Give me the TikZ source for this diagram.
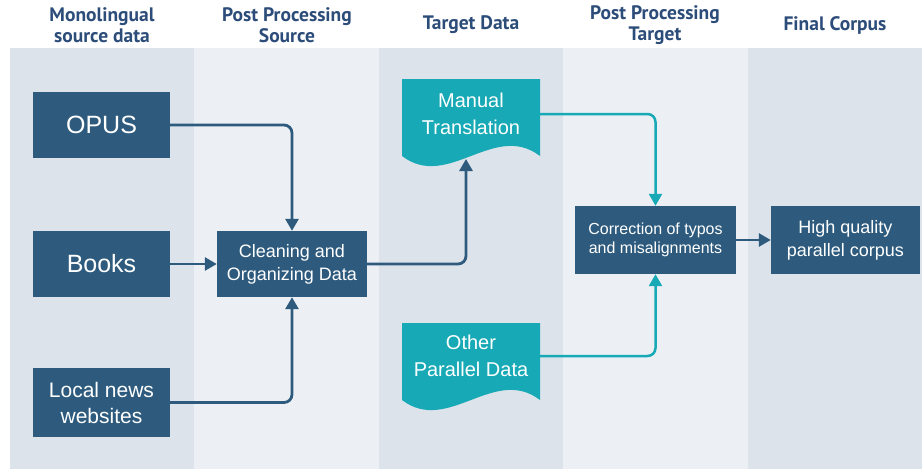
\documentclass[tikz,border=0pt]{standalone}
\usepackage{fontspec}
\setmainfont{Liberation Sans}
\newfontfamily\headfont{PT Sans}
\usetikzlibrary{positioning}
\usetikzlibrary{calc}
\usetikzlibrary{arrows.meta}
\usetikzlibrary{backgrounds}
\definecolor{laneDark}{HTML}{DCE3EA}
\definecolor{laneLight}{HTML}{ECF0F4}
\definecolor{boxBlue}{HTML}{2E5B7D}
\definecolor{docTeal}{HTML}{17A9B5}
\definecolor{headBlue}{HTML}{2C4C79}

\begin{document}
\begin{tikzpicture}[x=1pt, y=-1pt,
        HEAD/.style={text=headBlue, align=center, font={\headfont\bfseries\fontsize{19.5}{21}\selectfont}},
        SRC/.style={rectangle, fill=boxBlue, text=white, align=center, inner sep=0pt, minimum width=137pt, minimum height=66pt},
        PROC/.style={rectangle, fill=boxBlue, text=white, align=center, inner sep=0pt, minimum height=67pt},
        DOC/.style={rectangle, text=white, align=center, inner sep=0pt, minimum width=138pt, minimum height=66pt, font={\fontsize{20}{27}\selectfont}},
        FLOW/.style={boxBlue, line width=2.8pt, rounded corners=8pt, -{Triangle[length=12pt,width=13pt]}},
        TFLOW/.style={docTeal, line width=2.5pt, rounded corners=8pt, -{Triangle[length=12pt,width=13pt]}},
        ]
    \useasboundingbox (0,0) rectangle (922,469);

    % lanes
    \begin{scope}[on background layer]
        \fill[white] (0,0) rectangle (922,469);
        \fill[laneDark]  (10,48)  rectangle (194,469);
        \fill[laneLight] (194,48) rectangle (379,469);
        \fill[laneDark]  (379,48) rectangle (563,469);
        \fill[laneLight] (563,48) rectangle (748,469);
        \fill[laneDark]  (748,48) rectangle (922,469);
    \end{scope}

    \node[HEAD] (h1) at (102,25) {Monolingual\\source data};
    \node[HEAD] (h2) at (287,25) {Post Processing\\Source};
    \node[HEAD] (h3) at (471,25) {Target Data};
    \node[HEAD] (h4) at (655,25) {Post Processing\\Target};
    \node[HEAD] (h5) at (835,25) {Final Corpus};

    \node[SRC, font={\fontsize{25}{30}\selectfont}] (opus) at (101.5,125) {OPUS};
    \node[SRC, font={\fontsize{25}{30}\selectfont}] (books) at (101.5,264) {Books};
    \node[SRC, minimum height=69pt, font={\fontsize{21}{26}\selectfont}] (news) at (101.5,402.5) {Local news\\websites};

    \node[PROC, minimum width=150pt, minimum height=66pt, font={\fontsize{18}{23}\selectfont}] (clean) at (292,264) {Cleaning and\\Organizing Data};

    \node[DOC] (manual) at (471,114) {Manual\\Translation};
    \node[DOC] (other) at (471,356) {Other\\Parallel Data};

    \node[PROC, minimum width=161pt, minimum height=68pt, font={\fontsize{16}{19}\selectfont}] (corr) at (655.5,240) {Correction of typos\\and misalignments};
    \node[PROC, minimum width=149pt, minimum height=68pt, font={\fontsize{18}{23}\selectfont}] (final) at (845.5,240) {High quality\\parallel corpus};

    % wavy document bodies
    \begin{scope}[on background layer]
        \fill[docTeal] (402,79) -- (540,79) -- (540,156)
            .. controls (494,121) and (448,191) .. (402,156) -- cycle;
        \fill[docTeal] (402,323) -- (540,323) -- (540,400)
            .. controls (494,365) and (448,435) .. (402,400) -- cycle;
    \end{scope}

    \coordinate (mtin) at (466,159);

    \draw[FLOW] (opus.east) -| (clean.north);
    \draw[FLOW] (books.east) -- (clean.west);
    \draw[FLOW] (news.east) -| (clean.south);
    \draw[FLOW] (clean.east) -| (mtin);
    \draw[TFLOW] (manual.east) -| (corr.north);
    \draw[TFLOW] (other.east) -| (corr.south);
    \draw[FLOW] (corr.east) -- (final.west);
\end{tikzpicture}
\end{document}
